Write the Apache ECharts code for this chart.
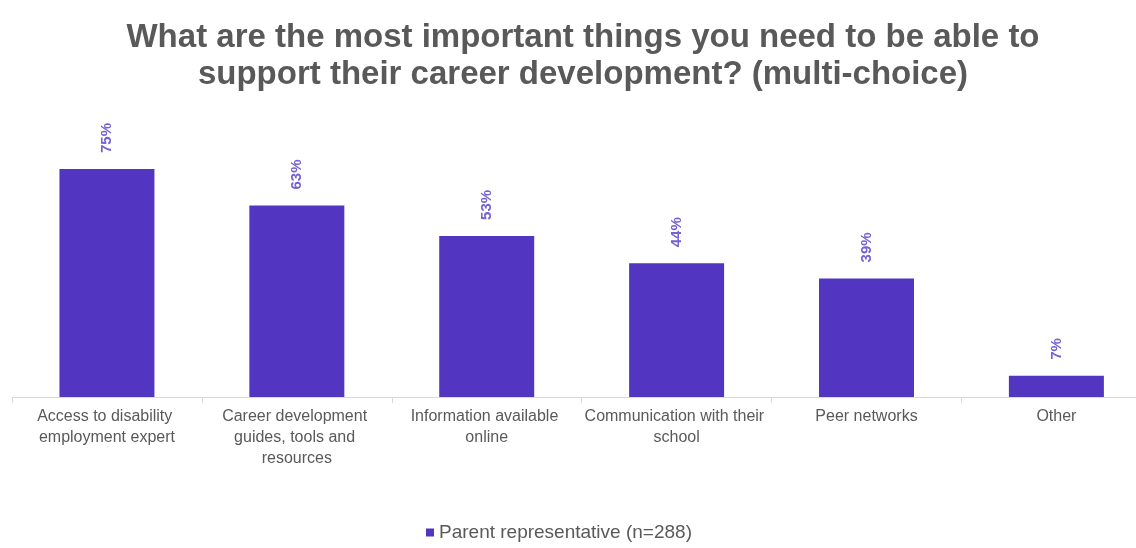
<!DOCTYPE html>
<html><head><meta charset="utf-8">
<script src="https://cdn.jsdelivr.net/npm/echarts@6/dist/echarts.min.js"></script>
<style>html,body{margin:0;padding:0;background:#fff;overflow:hidden}#c{width:1156px;height:548px}</style>
</head><body><div id="c"></div>
<script>
const categories = ["Access to disability employment expert","Career development guides, tools and resources","Information available online","Communication with their school","Peer networks","Other"];
const values = [75, 63, 53, 44, 39, 7];
const seriesName = "Parent representative (n=288)";
const titleText = "What are the most important things you need to be able to\nsupport their career development? (multi-choice)";

const chart = echarts.init(document.getElementById('c'));
chart.setOption({
  animation: false,
  title: {
    text: titleText, left: 578, top: 14, textAlign: 'center',
    textStyle: {fontFamily: 'Liberation Sans, Arial', fontSize: 33, fontWeight: 'bold', color: '#595959', lineHeight: 37}
  },
  legend: {
    bottom: 1, left: 421, itemWidth: 8, itemHeight: 8, icon: 'rect', itemGap: 6,
    textStyle: {fontFamily: 'Liberation Sans, Arial', fontSize: 19, color: '#595959'},
    data: [seriesName]
  },
  grid: {left: 12, right: 0, top: 93, bottom: 151, containLabel: false},
  xAxis: {
    type: 'category', data: categories,
    axisLine: {lineStyle: {color: '#d9d9d9', width: 1}},
    axisTick: {show: true, length: 6, lineStyle: {color: '#d9d9d9'}},
    axisLabel: {
      interval: 0, color: '#595959', fontFamily: 'Liberation Sans, Arial', fontSize: 16, lineHeight: 21, margin: 9,
      width: 194, overflow: 'break'
    }
  },
  yAxis: {type: 'value', min: 0, max: 100, show: false, splitLine: {show: false}},
  series: [{
    name: seriesName, type: 'bar', data: values, barWidth: 95,
    itemStyle: {color: '#5236C2'},
    label: {
      show: true, position: 'top', rotate: 90, align: 'left', verticalAlign: 'middle', distance: 16,
      formatter: p => p.value + '%',
      color: '#7262D4', fontFamily: 'Liberation Sans, Arial', fontSize: 15, fontWeight: 'bold'
    }
  }]
});
</script></body></html>
